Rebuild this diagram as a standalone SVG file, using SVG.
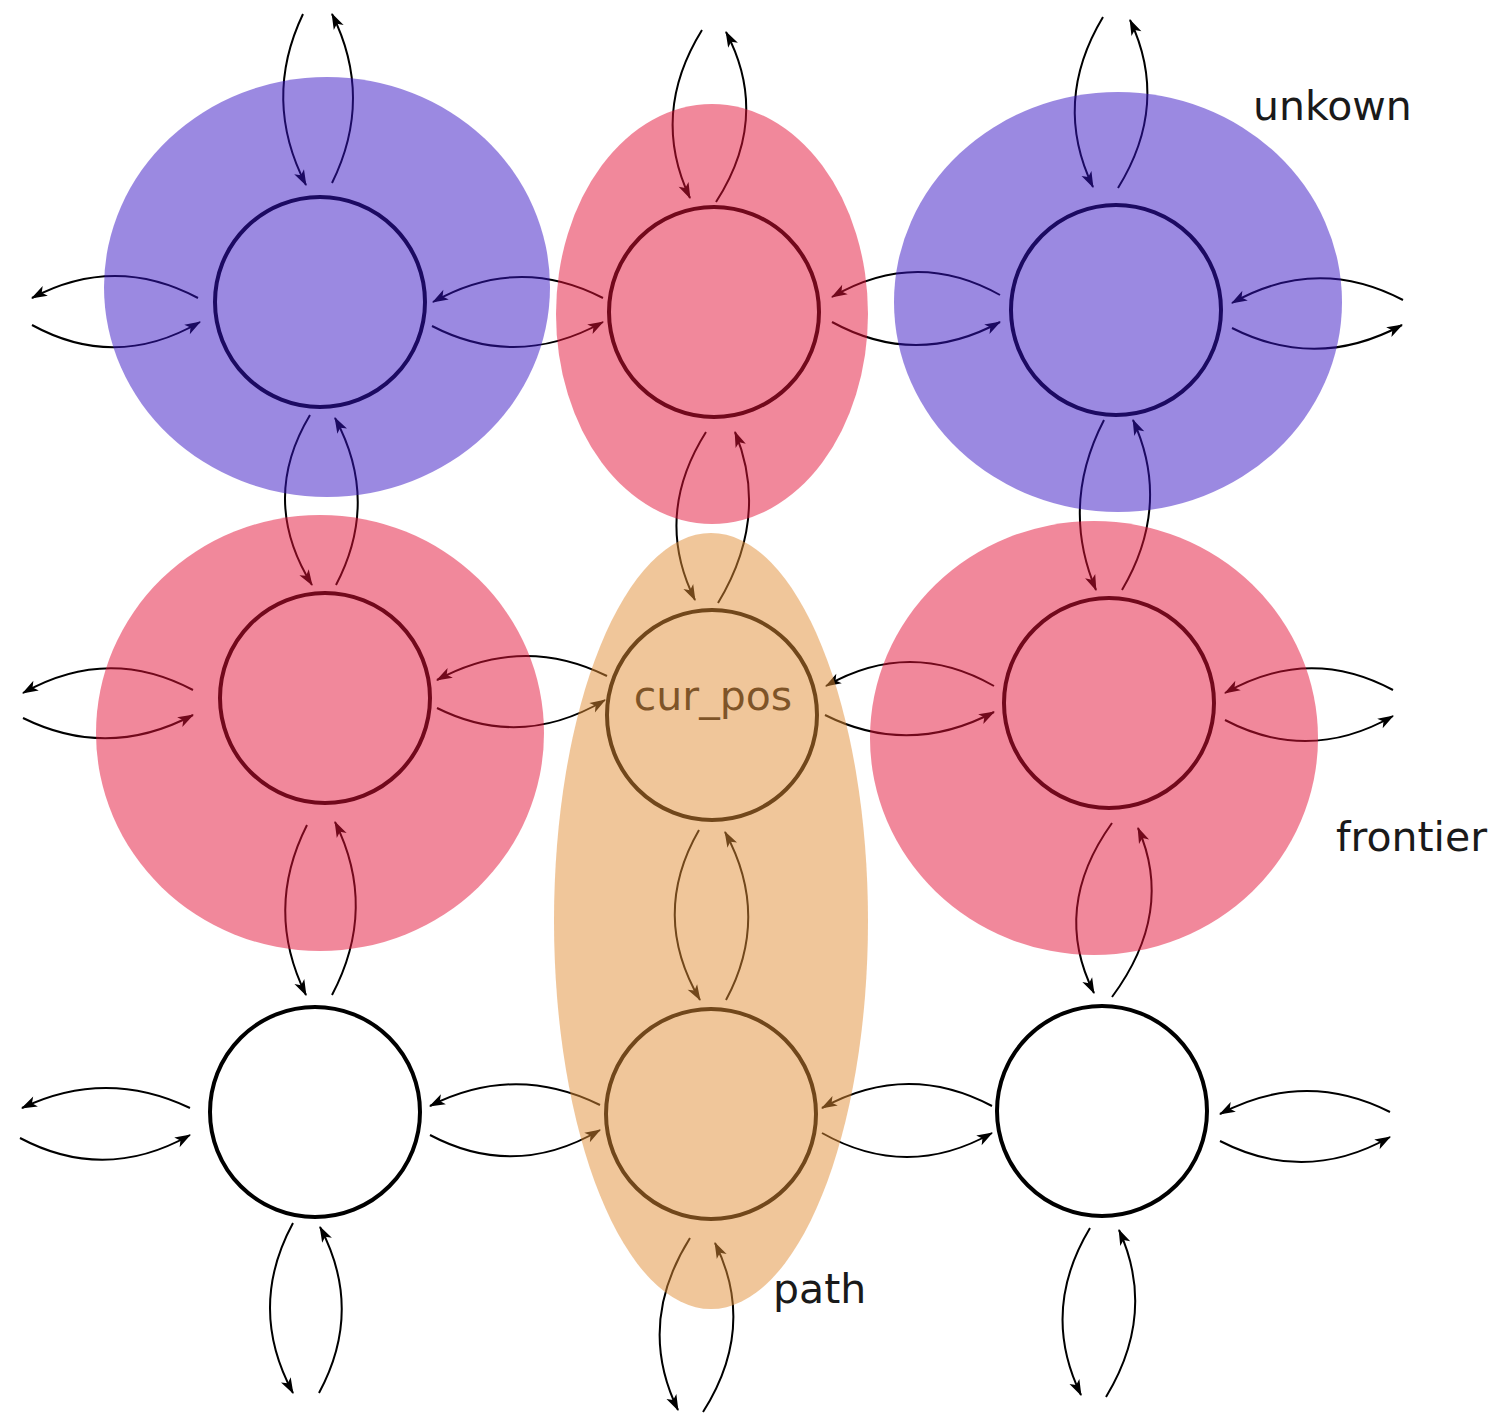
<svg xmlns="http://www.w3.org/2000/svg" width="1497" height="1415" viewBox="0 0 1497 1415">
<defs>
<style>
.node{fill:none;stroke:#000;stroke-width:4}
.edge{fill:none;stroke:#000;stroke-width:2;marker-end:url(#ah)}
.lbl{font-family:"DejaVu Sans","Liberation Sans",sans-serif;font-size:41px;fill:#1a1a1a}
.unk{fill:#3713c3;opacity:0.5}
.fro{fill:#e31137;opacity:0.5}
.pth{fill:#e18d35;opacity:0.5}
</style>
<marker id="ah" viewBox="-17 -8 19 16" markerWidth="19" markerHeight="16" refX="0" refY="0" markerUnits="userSpaceOnUse" orient="auto">
<path d="M1,0 L-15,-5.5 L-11,0 L-15,5.5 z" fill="#000"/>
</marker>
</defs>
<rect width="1497" height="1415" fill="#fff"/>
<g id="connectors">
<path class="edge" d="M198,298 Q115,254 32,298"/>
<path class="edge" d="M32,325 Q116,371 200,322"/>
<path class="edge" d="M603,298 Q518,254 433,302"/>
<path class="edge" d="M432,326 Q517,370 603,322"/>
<path class="edge" d="M1000,295 Q916,248 832,297"/>
<path class="edge" d="M832,322 Q916,368 1000,322"/>
<path class="edge" d="M1403,300 Q1317,255 1232,303"/>
<path class="edge" d="M1232,328 Q1317,371 1402,325"/>
<path class="edge" d="M193,690 Q108,645 23,693"/>
<path class="edge" d="M23,718 Q108,760 193,715"/>
<path class="edge" d="M607,676 Q522,634 437,680"/>
<path class="edge" d="M437,708 Q521,750 605,700"/>
<path class="edge" d="M994,686 Q910,638 826,686"/>
<path class="edge" d="M825,715 Q909,757 994,712"/>
<path class="edge" d="M1393,690 Q1309,645 1225,693"/>
<path class="edge" d="M1225,720 Q1309,764 1393,716"/>
<path class="edge" d="M190,1108 Q106,1068 22,1108"/>
<path class="edge" d="M20,1138 Q105,1183 190,1135"/>
<path class="edge" d="M600,1105 Q515,1063 430,1106"/>
<path class="edge" d="M430,1135 Q515,1180 600,1130"/>
<path class="edge" d="M992,1106 Q907,1061 822,1108"/>
<path class="edge" d="M822,1133 Q907,1181 992,1133"/>
<path class="edge" d="M1390,1112 Q1305,1069 1220,1114"/>
<path class="edge" d="M1220,1141 Q1305,1185 1390,1137"/>
<path class="edge" d="M303,14 Q262,100 306,185"/>
<path class="edge" d="M332,183 Q374,98 332,14"/>
<path class="edge" d="M310,415 Q259,500 312,585"/>
<path class="edge" d="M336,585 Q380,501 335,418"/>
<path class="edge" d="M307,825 Q264,910 306,995"/>
<path class="edge" d="M332,995 Q378,908 335,822"/>
<path class="edge" d="M293,1223 Q247,1308 293,1393"/>
<path class="edge" d="M319,1393 Q364,1310 320,1227"/>
<path class="edge" d="M702,30 Q650,114 690,198"/>
<path class="edge" d="M716,202 Q771,117 726,32"/>
<path class="edge" d="M706,432 Q653,516 695,600"/>
<path class="edge" d="M718,603 Q770,517 735,432"/>
<path class="edge" d="M699,830 Q650,915 700,1000"/>
<path class="edge" d="M726,1000 Q771,916 725,832"/>
<path class="edge" d="M690,1238 Q636,1324 678,1410"/>
<path class="edge" d="M703,1412 Q757,1327 715,1243"/>
<path class="edge" d="M1103,17 Q1052,102 1093,187"/>
<path class="edge" d="M1118,188 Q1170,104 1130,20"/>
<path class="edge" d="M1104,420 Q1060,505 1096,590"/>
<path class="edge" d="M1122,590 Q1172,505 1133,420"/>
<path class="edge" d="M1112,823 Q1051,908 1094,993"/>
<path class="edge" d="M1112,997 Q1175,912 1138,828"/>
<path class="edge" d="M1090,1228 Q1040,1311 1081,1395"/>
<path class="edge" d="M1106,1397 Q1157,1313 1119,1230"/>
</g>
<g id="n-tl"><circle class="node" cx="320" cy="302" r="105"/></g>
<g id="n-tm"><circle class="node" cx="714" cy="312" r="105"/></g>
<g id="n-tr"><circle class="node" cx="1116" cy="310" r="105"/></g>
<g id="n-ml"><circle class="node" cx="325" cy="698" r="105"/></g>
<g id="n-cur"><circle class="node" cx="712" cy="715" r="105"/><text class="lbl" x="713" y="710" text-anchor="middle">cur_pos</text></g>
<g id="n-mr"><circle class="node" cx="1109" cy="703" r="105"/></g>
<g id="n-bl"><circle class="node" cx="315" cy="1112" r="105"/></g>
<g id="n-bm"><circle class="node" cx="711" cy="1114" r="105"/></g>
<g id="n-br"><circle class="node" cx="1102" cy="1111" r="105"/></g>
<g id="regions">
<ellipse class="unk" cx="327" cy="287" rx="223" ry="210"/>
<ellipse class="fro" cx="712" cy="314" rx="156" ry="210"/>
<ellipse class="unk" cx="1118" cy="302" rx="224" ry="210"/>
<ellipse class="fro" cx="320" cy="733" rx="224" ry="218"/>
<ellipse class="fro" cx="1094" cy="738" rx="224" ry="217"/>
<ellipse class="pth" cx="711" cy="921" rx="157" ry="388"/>
</g>
<g id="labels">
<text class="lbl" x="1253" y="120">unkown</text>
<text class="lbl" x="1336" y="851">frontier</text>
<text class="lbl" x="773" y="1303">path</text>
</g>
</svg>
